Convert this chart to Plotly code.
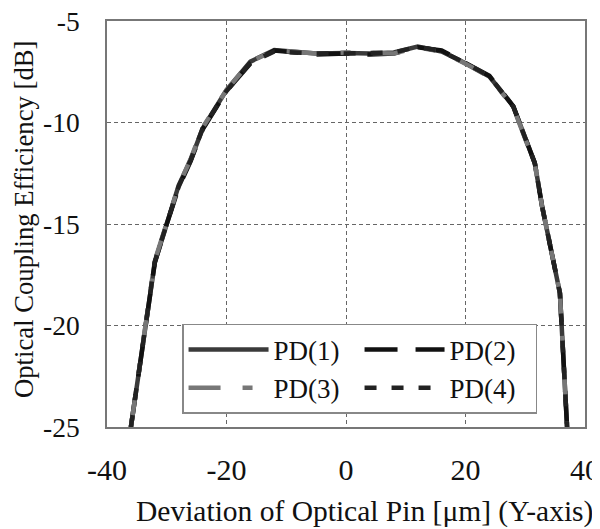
import plotly.graph_objects as go

x_um = [-36, -33.6, -32, -30, -28, -26, -24, -20, -16, -12, -9, -5, 0, 4, 8, 12, 16, 20, 24, 28, 31.6, 32.8, 35.8, 37]
pd1 = [-25, -20, -16.9, -15.0, -13.1, -11.85, -10.3, -8.4, -7.0, -6.43, -6.5, -6.6, -6.58, -6.6, -6.55, -6.26, -6.5, -7.08, -7.74, -9.2, -12.0, -14.1, -18.4, -25]
pd2 = [-25, -20, -16.9, -15.0, -13.2, -11.9, -10.35, -8.45, -7.1, -6.45, -6.55, -6.65, -6.6, -6.65, -6.6, -6.3, -6.45, -7.05, -7.7, -9.2, -12.0, -14.1, -18.4, -25]
pd3 = [-25, -20, -16.8, -14.95, -13.1, -11.8, -10.25, -8.4, -7.0, -6.45, -6.5, -6.6, -6.55, -6.6, -6.6, -6.3, -6.5, -7.1, -7.75, -9.25, -12.05, -14.1, -18.4, -25]
pd4 = [-25, -20, -16.85, -15.0, -13.15, -11.85, -10.3, -8.45, -7.05, -6.5, -6.55, -6.6, -6.6, -6.6, -6.55, -6.28, -6.48, -7.08, -7.72, -9.22, -12.0, -14.1, -18.4, -25]

names = ["PD(1)", "PD(2)", "PD(3)", "PD(4)"]
series = [pd1, pd2, pd3, pd4]
colors = ["#3a3a3a", "#111111", "#777777", "#222222"]
dashes = ["solid", "33px,18px", "32px,22px,10px,22px", "12px,15px"]

x_ticks = [-40, -20, 0, 20, 40]
y_ticks = [-25, -20, -15, -10, -5]

fig = go.Figure()
for n, s, c, d in zip(names, series, colors, dashes):
    fig.add_trace(go.Scatter(x=x_um, y=s, name=n, mode="lines",
                             line=dict(color=c, width=4.5, dash=d)))

font_family = "Liberation Serif, Times New Roman, serif"
fig.update_layout(
    width=592, height=521,
    margin=dict(l=99, r=15, t=13, b=102),
    paper_bgcolor="white", plot_bgcolor="white",
    font=dict(family=font_family, size=26, color="#111"),
    showlegend=True,
    legend=dict(orientation="h", x=0.157, y=0.2537, xanchor="left", yanchor="top",
                bgcolor="white", bordercolor="#888", borderwidth=1.5,
                font=dict(size=27, family=font_family, color="#111"),
                entrywidth=81, entrywidthmode="pixels", tracegroupgap=0,
                itemwidth=80),
    xaxis=dict(range=[-40, 40], tickvals=x_ticks, ticktext=[str(v) for v in x_ticks],
               showgrid=True, gridcolor="#666", griddash="4px,3px", gridwidth=1,
               showline=True, linecolor="#777", linewidth=1.5, mirror=True,
               zeroline=False, ticks="outside", ticklen=15, tickcolor="rgba(0,0,0,0)",
               tickfont=dict(size=30), automargin=False, ticklabeloverflow="allow"),
    yaxis=dict(range=[-25, -5], tickvals=y_ticks, ticktext=[str(v) for v in y_ticks],
               showgrid=True, gridcolor="#666", griddash="4px,3px", gridwidth=1,
               showline=True, linecolor="#777", linewidth=1.5, mirror=True,
               zeroline=False, ticks="", ticklabelstandoff=20,
               tickfont=dict(size=27.5), automargin=False, ticklabeloverflow="allow"),
    annotations=[
        dict(text="Deviation of Optical Pin [μm] (Y-axis)",
             xref="paper", yref="paper", x=0.5377, y=-0.209,
             xanchor="center", yanchor="middle", showarrow=False,
             font=dict(size=29.5, family=font_family, color="#111")),
        dict(text="Optical Coupling Efficiency [dB]", textangle=-90,
             xref="paper", yref="paper", x=-0.1736, y=0.5099,
             xanchor="center", yanchor="middle", showarrow=False,
             font=dict(size=26.7, family=font_family, color="#111")),
    ],
)
fig.write_html("out.html")
